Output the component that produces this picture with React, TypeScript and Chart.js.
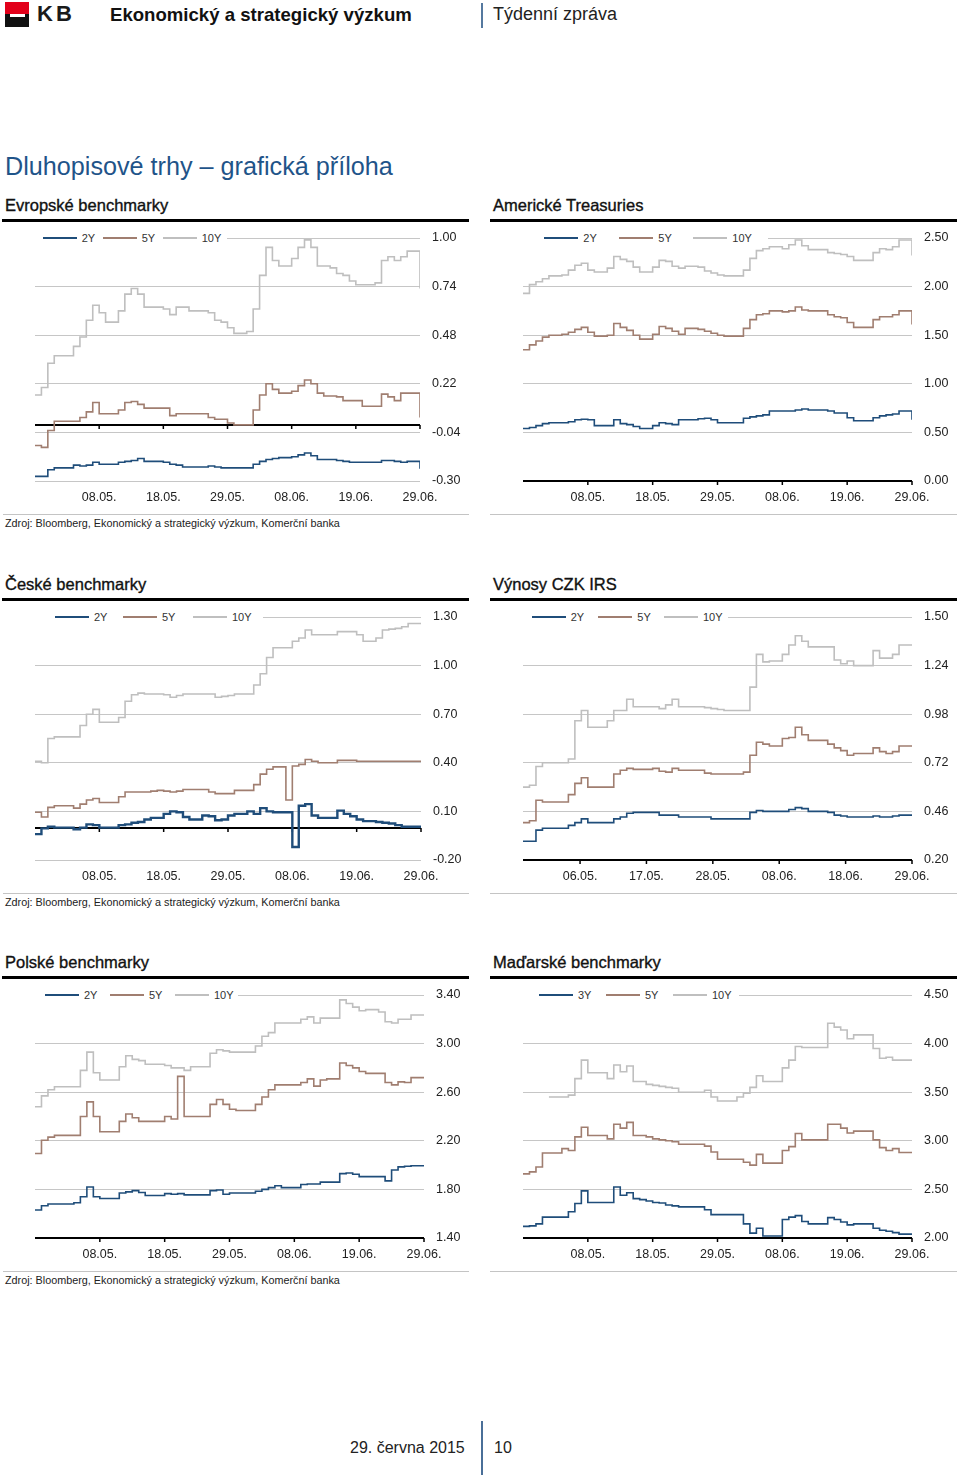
import React, { useEffect, useRef } from 'react';
import { Chart, registerables } from 'chart.js';

Chart.register(...registerables);

const FONT = '"Liberation Sans", Arial, Helvetica, sans-serif';
const C2 = '#1f4d7a';
const C5 = '#a07e70';
const C10 = '#bfbfbf';

// ---- x tick labels (positions in sample index units) ----
const datesStd = ['08.05.', '18.05.', '29.05.', '08.06.', '19.06.', '29.06.'];
const datesStdPos = [10, 20, 30, 40, 50, 60];
const datesIRS = ['06.05.', '17.05.', '28.05.', '08.06.', '18.06.', '29.06.'];
const datesIRSPos = [8.8, 19.04, 29.28, 39.52, 49.76, 60];

// ---- y tick values ----
const yEuro = [-0.3, -0.04, 0.22, 0.48, 0.74, 1.0];
const yUS = [0, 0.5, 1.0, 1.5, 2.0, 2.5];
const yCZ = [-0.2, 0.1, 0.4, 0.7, 1.0, 1.3];
const yIRS = [0.2, 0.46, 0.72, 0.98, 1.24, 1.5];
const yPL = [1.4, 1.8, 2.2, 2.6, 3.0, 3.4];
const yHU = [2.0, 2.5, 3.0, 3.5, 4.0, 4.5];

// ---- Evropské benchmarky ----
const euro2Y = [-0.275,-0.275,-0.24,-0.23,-0.23,-0.23,-0.215,-0.22,-0.215,-0.2,
  -0.21,-0.21,-0.21,-0.2,-0.195,-0.19,-0.18,-0.195,-0.195,-0.195,
  -0.2,-0.21,-0.215,-0.225,-0.225,-0.225,-0.225,-0.22,-0.225,-0.23,
  -0.23,-0.23,-0.23,-0.23,-0.21,-0.195,-0.185,-0.18,-0.175,-0.175,
  -0.17,-0.16,-0.15,-0.165,-0.185,-0.185,-0.185,-0.19,-0.195,-0.2,
  -0.2,-0.2,-0.2,-0.2,-0.19,-0.19,-0.195,-0.2,-0.195,-0.195,
  -0.235];
const euro5Y = [-0.11,-0.12,-0.03,0.02,0.02,0.02,0.02,0.04,0.07,0.12,
  0.06,0.06,0.06,0.08,0.12,0.125,0.11,0.09,0.09,0.09,
  0.09,0.05,0.06,0.06,0.06,0.06,0.06,0.04,0.03,0.03,
  0.01,0.0,0.0,0.0,0.08,0.16,0.22,0.19,0.17,0.17,
  0.18,0.21,0.24,0.22,0.17,0.155,0.155,0.15,0.13,0.13,
  0.13,0.1,0.1,0.1,0.165,0.15,0.13,0.17,0.17,0.17,
  0.04];
const euro10Y = [0.16,0.2,0.33,0.37,0.37,0.37,0.42,0.47,0.56,0.64,
  0.6,0.55,0.55,0.61,0.7,0.73,0.7,0.63,0.63,0.63,
  0.62,0.59,0.63,0.63,0.61,0.61,0.61,0.6,0.56,0.55,
  0.52,0.49,0.49,0.5,0.62,0.8,0.95,0.88,0.85,0.85,
  0.89,0.95,0.99,0.95,0.85,0.85,0.84,0.81,0.8,0.77,
  0.75,0.75,0.75,0.76,0.88,0.9,0.88,0.9,0.93,0.93,
  0.73];

// ---- Americké Treasuries ----
const us2Y = [0.54,0.55,0.57,0.59,0.6,0.6,0.6,0.61,0.63,0.635,
  0.63,0.57,0.57,0.57,0.63,0.59,0.58,0.56,0.54,0.54,
  0.57,0.6,0.59,0.58,0.63,0.63,0.63,0.64,0.645,0.63,
  0.6,0.6,0.6,0.6,0.645,0.66,0.67,0.68,0.72,0.72,
  0.72,0.72,0.73,0.74,0.73,0.73,0.73,0.72,0.7,0.7,
  0.65,0.62,0.62,0.62,0.65,0.67,0.68,0.69,0.72,0.72,
  0.63];
const us5Y = [1.35,1.4,1.44,1.48,1.5,1.5,1.51,1.53,1.56,1.58,
  1.53,1.49,1.49,1.5,1.62,1.58,1.55,1.5,1.46,1.46,
  1.51,1.59,1.57,1.54,1.51,1.57,1.57,1.56,1.54,1.52,
  1.5,1.49,1.49,1.49,1.57,1.66,1.71,1.72,1.75,1.75,
  1.74,1.75,1.79,1.76,1.75,1.75,1.75,1.71,1.69,1.68,
  1.63,1.58,1.58,1.58,1.66,1.69,1.69,1.71,1.75,1.75,
  1.61];
const us10Y = [1.93,2.02,2.05,2.08,2.11,2.11,2.12,2.17,2.22,2.24,
  2.17,2.15,2.15,2.19,2.31,2.28,2.26,2.2,2.15,2.15,
  2.2,2.27,2.26,2.21,2.19,2.21,2.21,2.2,2.16,2.14,
  2.12,2.11,2.11,2.11,2.17,2.29,2.37,2.39,2.41,2.41,
  2.39,2.43,2.48,2.42,2.38,2.38,2.38,2.35,2.34,2.33,
  2.31,2.27,2.27,2.27,2.35,2.39,2.38,2.41,2.48,2.48,
  2.32];

// ---- České benchmarky ----
const cz2Y = [-0.04,-0.005,0.005,0.0,0.0,0.0,-0.01,0.0,0.02,0.015,
  0.0,0.0,0.0,0.015,0.02,0.03,0.035,0.05,0.06,0.06,
  0.085,0.1,0.095,0.065,0.05,0.05,0.075,0.07,0.045,0.05,
  0.075,0.085,0.085,0.1,0.085,0.12,0.1,0.095,0.095,0.095,
  -0.12,0.135,0.145,0.075,0.06,0.06,0.06,0.105,0.085,0.07,
  0.05,0.04,0.04,0.035,0.03,0.025,0.015,0.005,0.005,0.005,
  0.005];
const cz5Y = [0.095,0.065,0.125,0.135,0.135,0.135,0.12,0.145,0.17,0.18,
  0.155,0.155,0.155,0.19,0.22,0.22,0.22,0.22,0.225,0.23,
  0.225,0.22,0.225,0.235,0.235,0.235,0.235,0.22,0.21,0.21,
  0.21,0.23,0.23,0.23,0.265,0.33,0.36,0.375,0.375,0.17,
  0.38,0.39,0.42,0.41,0.4,0.4,0.4,0.415,0.415,0.415,
  0.41,0.41,0.41,0.41,0.41,0.41,0.41,0.41,0.41,0.41,
  0.41];
const cz10Y = [0.41,0.4,0.55,0.56,0.56,0.56,0.56,0.63,0.7,0.73,
  0.65,0.65,0.65,0.68,0.78,0.82,0.83,0.825,0.825,0.825,
  0.82,0.805,0.815,0.825,0.825,0.825,0.825,0.825,0.805,0.81,
  0.815,0.825,0.825,0.825,0.88,0.95,1.05,1.11,1.11,1.11,
  1.15,1.17,1.22,1.19,1.19,1.19,1.19,1.21,1.21,1.21,
  1.19,1.15,1.15,1.17,1.22,1.225,1.23,1.24,1.26,1.26,
  1.255];

// ---- Výnosy CZK IRS ----
const irs2Y = [0.3,0.3,0.36,0.37,0.37,0.37,0.37,0.385,0.4,0.42,
  0.4,0.4,0.4,0.4,0.42,0.43,0.45,0.455,0.455,0.455,
  0.455,0.44,0.44,0.44,0.43,0.43,0.43,0.43,0.43,0.42,
  0.42,0.42,0.42,0.42,0.42,0.455,0.465,0.46,0.46,0.46,
  0.46,0.47,0.48,0.475,0.46,0.46,0.46,0.455,0.44,0.435,
  0.43,0.43,0.43,0.43,0.435,0.43,0.43,0.435,0.44,0.44,
  0.435];
const irs5Y = [0.4,0.41,0.52,0.51,0.51,0.51,0.51,0.55,0.61,0.64,
  0.59,0.59,0.59,0.59,0.66,0.68,0.69,0.685,0.685,0.685,
  0.69,0.675,0.67,0.69,0.68,0.68,0.68,0.68,0.665,0.66,
  0.66,0.66,0.66,0.66,0.67,0.76,0.83,0.82,0.81,0.81,
  0.85,0.855,0.91,0.87,0.84,0.84,0.84,0.82,0.8,0.785,
  0.76,0.77,0.77,0.77,0.8,0.78,0.77,0.78,0.81,0.81,
  0.81];
const irs10Y = [0.59,0.6,0.7,0.72,0.72,0.72,0.72,0.74,0.945,1.0,
  0.91,0.91,0.91,0.945,1.0,1.0,1.06,1.02,1.02,1.02,
  1.02,1.01,1.03,1.06,1.02,1.02,1.02,1.02,1.015,1.01,
  1.005,1.0,1.0,1.0,1.0,1.125,1.3,1.26,1.265,1.265,
  1.3,1.35,1.4,1.37,1.34,1.34,1.34,1.34,1.27,1.25,
  1.265,1.24,1.24,1.24,1.32,1.28,1.28,1.3,1.35,1.35,
  1.35];

// ---- Polské benchmarky ----
const pl2Y = [1.63,1.665,1.68,1.68,1.68,1.68,1.69,1.74,1.82,1.74,
  1.725,1.725,1.725,1.77,1.78,1.79,1.775,1.75,1.75,1.75,
  1.765,1.76,1.765,1.755,1.755,1.755,1.755,1.79,1.795,1.76,
  1.77,1.77,1.77,1.77,1.785,1.8,1.815,1.83,1.815,1.815,
  1.815,1.84,1.845,1.845,1.86,1.86,1.86,1.93,1.935,1.925,
  1.905,1.905,1.905,1.905,1.87,1.96,1.985,1.99,1.995,1.995,
  1.995];
const pl5Y = [2.095,2.205,2.23,2.245,2.245,2.245,2.245,2.4,2.52,2.4,
  2.275,2.275,2.275,2.36,2.42,2.39,2.36,2.36,2.36,2.36,
  2.4,2.38,2.73,2.4,2.4,2.4,2.4,2.5,2.54,2.5,
  2.46,2.45,2.45,2.45,2.5,2.56,2.62,2.66,2.66,2.66,
  2.66,2.68,2.71,2.65,2.7,2.71,2.71,2.84,2.82,2.8,
  2.77,2.755,2.755,2.755,2.68,2.66,2.685,2.68,2.72,2.72,
  2.72];
const pl10Y = [2.48,2.57,2.62,2.645,2.645,2.645,2.645,2.78,2.93,2.76,
  2.7,2.7,2.7,2.81,2.9,2.87,2.86,2.83,2.83,2.83,
  2.82,2.8,2.8,2.78,2.81,2.81,2.81,2.92,2.95,2.94,
  2.93,2.93,2.93,2.93,2.98,3.06,3.09,3.17,3.17,3.17,
  3.17,3.2,3.22,3.17,3.21,3.21,3.21,3.36,3.33,3.3,
  3.27,3.28,3.28,3.26,3.18,3.17,3.2,3.2,3.235,3.235,
  3.235];

// ---- Maďarské benchmarky ----
const hu3Y = [2.12,2.125,2.145,2.215,2.215,2.215,2.215,2.27,2.355,2.485,
  2.365,2.365,2.365,2.365,2.525,2.44,2.465,2.405,2.395,2.38,
  2.365,2.36,2.34,2.33,2.32,2.32,2.32,2.32,2.29,2.24,
  2.24,2.24,2.24,2.24,2.145,2.05,2.1,2.02,2.02,2.02,
  2.19,2.215,2.23,2.17,2.145,2.145,2.145,2.21,2.19,2.165,
  2.135,2.145,2.145,2.145,2.1,2.08,2.07,2.055,2.04,2.04,
  2.04];
const hu5Y = [2.66,2.68,2.73,2.875,2.875,2.875,2.92,2.9,3.04,3.14,
  3.055,3.055,3.055,3.02,3.17,3.13,3.19,3.055,3.055,3.04,
  3.02,3.01,3.0,2.99,2.965,2.965,2.965,2.965,2.945,2.885,
  2.81,2.81,2.81,2.81,2.78,2.75,2.86,2.77,2.77,2.77,
  2.9,2.94,3.075,3.01,3.01,3.01,3.01,3.17,3.17,3.13,
  3.08,3.1,3.1,3.1,3.01,2.93,2.9,2.92,2.88,2.88,
  2.88];
const hu10Y = [null,null,null,null,3.45,3.45,3.45,3.47,3.64,3.83,
  3.7,3.7,3.7,3.64,3.78,3.71,3.77,3.61,3.61,3.58,
  3.57,3.56,3.55,3.54,3.5,3.5,3.5,3.5,3.52,3.45,
  3.41,3.41,3.41,3.45,3.49,3.55,3.67,3.61,3.61,3.61,
  3.75,3.83,3.97,3.96,3.96,3.96,3.96,4.21,4.17,4.14,
  4.05,4.09,4.09,4.09,3.95,3.85,3.86,3.83,3.83,3.83,
  3.83];

type Series = { label: string; data: (number | null)[]; color: string; width: number };
type Spec = {
  left: number; top: number; plotW: number; plotH: number;
  yTicks: number[]; axisAt: number;
  xPos: number[]; xLabels: string[];
  series: Series[];
  legendStarts: number[]; legendEnd: number;
};

const PADL = 5, PADT = 10, YW = 50, XH = 30;

function MiniChart({ spec }: { spec: Spec }) {
  const ref = useRef<HTMLCanvasElement>(null);
  const W = spec.plotW + PADL + YW;
  const H = spec.plotH + PADT + XH;
  useEffect(() => {
    const axisPlugin = {
      id: 'crossAxis',
      beforeDatasetsDraw(chart: any) {
        const { ctx, chartArea, scales } = chart;
        const y = Math.round(scales.y.getPixelForValue(spec.axisAt));
        ctx.save();
        ctx.strokeStyle = '#000';
        ctx.lineWidth = 2;
        ctx.beginPath();
        ctx.moveTo(chartArea.left, y);
        ctx.lineTo(chartArea.right, y);
        ctx.stroke();
        ctx.lineWidth = 1.5;
        spec.xPos.forEach((p) => {
          const x = scales.x.getPixelForValue(p);
          ctx.beginPath();
          ctx.moveTo(x, y);
          ctx.lineTo(x, y + 4);
          ctx.stroke();
        });
        ctx.restore();
      },
    };
    const tickFont = { family: FONT, size: 12.5 };
    const chart = new Chart(ref.current as HTMLCanvasElement, {
      type: 'line',
      data: {
        datasets: [...spec.series].reverse().map((s) => ({
          label: s.label,
          data: s.data.map((v, i) => ({ x: i, y: v })),
          borderColor: s.color,
          borderWidth: s.width,
          stepped: true,
          pointRadius: 0,
          fill: false,
          spanGaps: false,
        })),
      } as any,
      options: {
        animation: false,
        responsive: false,
        maintainAspectRatio: false,
        devicePixelRatio: 1,
        layout: { padding: { left: PADL, top: PADT, right: 0, bottom: 0 } },
        plugins: { legend: { display: false }, tooltip: { enabled: false } },
        scales: {
          x: {
            type: 'linear',
            min: 0,
            max: 60,
            grid: { display: false, drawTicks: false },
            border: { display: false },
            afterBuildTicks: (s: any) => { s.ticks = spec.xPos.map((v) => ({ value: v })); },
            afterFit: (s: any) => { s.height = XH; s.paddingLeft = 0; s.paddingRight = 0; s.paddingTop = 0; s.paddingBottom = 0; },
            ticks: {
              autoSkip: false, maxRotation: 0, minRotation: 0, padding: 9,
              color: '#222', font: tickFont,
              callback: (_v: any, i: number) => spec.xLabels[i],
            },
          },
          y: {
            type: 'linear',
            position: 'right',
            min: spec.yTicks[0],
            max: spec.yTicks[spec.yTicks.length - 1],
            grid: { color: '#c6c6c6', lineWidth: 1, drawTicks: false },
            border: { display: false },
            afterBuildTicks: (s: any) => { s.ticks = spec.yTicks.map((v) => ({ value: v })); },
            afterFit: (s: any) => { s.width = YW; s.paddingTop = 0; s.paddingBottom = 0; s.paddingLeft = 0; s.paddingRight = 0; },
            ticks: {
              padding: 12, color: '#222', font: tickFont,
              callback: (v: any) => Number(v).toFixed(2),
            },
          },
        },
      } as any,
      plugins: [axisPlugin],
    });
    return () => chart.destroy();
  }, []);

  return (
    <>
      <canvas
        ref={ref}
        width={W}
        height={H}
        style={{ position: 'absolute', left: spec.left - PADL, top: spec.top - PADT, width: W, height: H }}
      />
      <div
        style={{
          position: 'absolute', left: spec.left, top: spec.top - 7,
          width: spec.legendEnd - spec.left, height: 14, background: '#fff',
        }}
      >
        {spec.series.map((s, i) => (
          <React.Fragment key={s.label}>
            <div style={{ position: 'absolute', left: spec.legendStarts[i] - spec.left, top: 6.25, width: 34, height: 1.5, background: s.color }} />
            <div style={{ position: 'absolute', left: spec.legendStarts[i] - spec.left + 39, top: 0, fontSize: 11, lineHeight: '14px', color: '#333', whiteSpace: 'nowrap' }}>{s.label}</div>
          </React.Fragment>
        ))}
      </div>
    </>
  );
}

const sources = 'Zdroj: Bloomberg, Ekonomický a strategický výzkum, Komerční banka';

function Txt({ x, cy, size, children, style }: any) {
  return (
    <div style={{ position: 'absolute', left: x, top: cy - size * 0.6, fontSize: size, lineHeight: `${size * 1.2}px`, whiteSpace: 'nowrap', ...style }}>
      {children}
    </div>
  );
}

const rowTops = [238, 617, 995];

const specs: { title: string; spec: Spec }[] = [
  { title: 'Evropské benchmarky', spec: { left: 35, top: rowTops[0], plotW: 385, plotH: 243, yTicks: yEuro, axisAt: 0, xPos: datesStdPos, xLabels: datesStd,
    series: [{ label: '2Y', data: euro2Y, color: C2, width: 1.6 }, { label: '5Y', data: euro5Y, color: C5, width: 1.6 }, { label: '10Y', data: euro10Y, color: C10, width: 1.6 }],
    legendStarts: [42.7, 102.7, 162.7], legendEnd: 227 } },
  { title: 'Americké Treasuries', spec: { left: 523, top: rowTops[0], plotW: 389, plotH: 243, yTicks: yUS, axisAt: 0, xPos: datesStdPos, xLabels: datesStd,
    series: [{ label: '2Y', data: us2Y, color: C2, width: 1.6 }, { label: '5Y', data: us5Y, color: C5, width: 1.6 }, { label: '10Y', data: us10Y, color: C10, width: 1.6 }],
    legendStarts: [544.3, 619.3, 693.3], legendEnd: 768 } },
  { title: 'České benchmarky', spec: { left: 35, top: rowTops[1], plotW: 386, plotH: 243, yTicks: yCZ, axisAt: 0, xPos: datesStdPos, xLabels: datesStd,
    series: [{ label: '2Y', data: cz2Y, color: C2, width: 2.4 }, { label: '5Y', data: cz5Y, color: C5, width: 1.6 }, { label: '10Y', data: cz10Y, color: C10, width: 1.6 }],
    legendStarts: [55, 123, 193], legendEnd: 263 } },
  { title: 'Výnosy CZK IRS', spec: { left: 523, top: rowTops[1], plotW: 389, plotH: 243, yTicks: yIRS, axisAt: 0.2, xPos: datesIRSPos, xLabels: datesIRS,
    series: [{ label: '2Y', data: irs2Y, color: C2, width: 1.6 }, { label: '5Y', data: irs5Y, color: C5, width: 1.6 }, { label: '10Y', data: irs10Y, color: C10, width: 1.6 }],
    legendStarts: [531.7, 598.3, 664], legendEnd: 728 } },
  { title: 'Polské benchmarky', spec: { left: 35, top: rowTops[2], plotW: 389, plotH: 243, yTicks: yPL, axisAt: 1.4, xPos: datesStdPos, xLabels: datesStd,
    series: [{ label: '2Y', data: pl2Y, color: C2, width: 1.6 }, { label: '5Y', data: pl5Y, color: C5, width: 1.6 }, { label: '10Y', data: pl10Y, color: C10, width: 1.6 }],
    legendStarts: [45, 110, 175], legendEnd: 238 } },
  { title: 'Maďarské benchmarky', spec: { left: 523, top: rowTops[2], plotW: 389, plotH: 243, yTicks: yHU, axisAt: 2.0, xPos: datesStdPos, xLabels: datesStd,
    series: [{ label: '3Y', data: hu3Y, color: C2, width: 1.6 }, { label: '5Y', data: hu5Y, color: C5, width: 1.6 }, { label: '10Y', data: hu10Y, color: C10, width: 1.6 }],
    legendStarts: [539, 606, 673], legendEnd: 739 } },
];

export default function App() {
  return (
    <div style={{ position: 'absolute', left: 0, top: 0, width: 960, height: 1475, background: '#fff', fontFamily: FONT, color: '#111', overflow: 'hidden' }}>
      {/* header */}
      <div style={{ position: 'absolute', left: 5, top: 2, width: 24, height: 25, background: '#111' }}>
        <div style={{ position: 'absolute', left: 0, top: 0, width: 24, height: 12, background: '#e2001a' }} />
        <div style={{ position: 'absolute', left: 5, top: 12, width: 15, height: 2.5, background: '#fff' }} />
      </div>
      <Txt x={37} cy={14} size={22} style={{ fontWeight: 'bold', letterSpacing: 3, color: '#1a1a1a' }}>KB</Txt>
      <Txt x={110} cy={15} size={18.6} style={{ fontWeight: 'bold', color: '#111' }}>Ekonomický a strategický výzkum</Txt>
      <div style={{ position: 'absolute', left: 481, top: 3, width: 2, height: 25, background: '#55799f' }} />
      <Txt x={493} cy={15} size={18} style={{ color: '#222' }}>Týdenní zpráva</Txt>

      <Txt x={5} cy={166} size={25.2} style={{ color: '#1f5489' }}>Dluhopisové trhy – grafická příloha</Txt>

      {rowTops.map((t, r) => (
        <React.Fragment key={r}>
          <div style={{ position: 'absolute', left: 2, top: t - 19.5, width: 467, height: 3, background: '#000' }} />
          <div style={{ position: 'absolute', left: 490, top: t - 19.5, width: 467, height: 3, background: '#000' }} />
          <div style={{ position: 'absolute', left: 3, top: t + 276, width: 466, height: 1, background: '#c4c4c4' }} />
          <div style={{ position: 'absolute', left: 490, top: t + 276, width: 467, height: 1, background: '#c4c4c4' }} />
          <Txt x={5} cy={t + 285.5} size={10.8} style={{ color: '#222' }}>{sources}</Txt>
        </React.Fragment>
      ))}

      {specs.map((s, i) => (
        <React.Fragment key={s.title}>
          <Txt x={i % 2 === 0 ? 5 : 493} cy={s.spec.top - 32} size={16.5} style={{ color: '#111', WebkitTextStroke: '0.35px #111' }}>{s.title}</Txt>
          <MiniChart spec={s.spec} />
        </React.Fragment>
      ))}

      {/* footer */}
      <Txt x={350} cy={1448} size={16} style={{ color: '#222' }}>29. června 2015</Txt>
      <div style={{ position: 'absolute', left: 481, top: 1421, width: 2, height: 54, background: '#4a6f98' }} />
      <Txt x={494} cy={1448} size={16} style={{ color: '#222' }}>10</Txt>
    </div>
  );
}
